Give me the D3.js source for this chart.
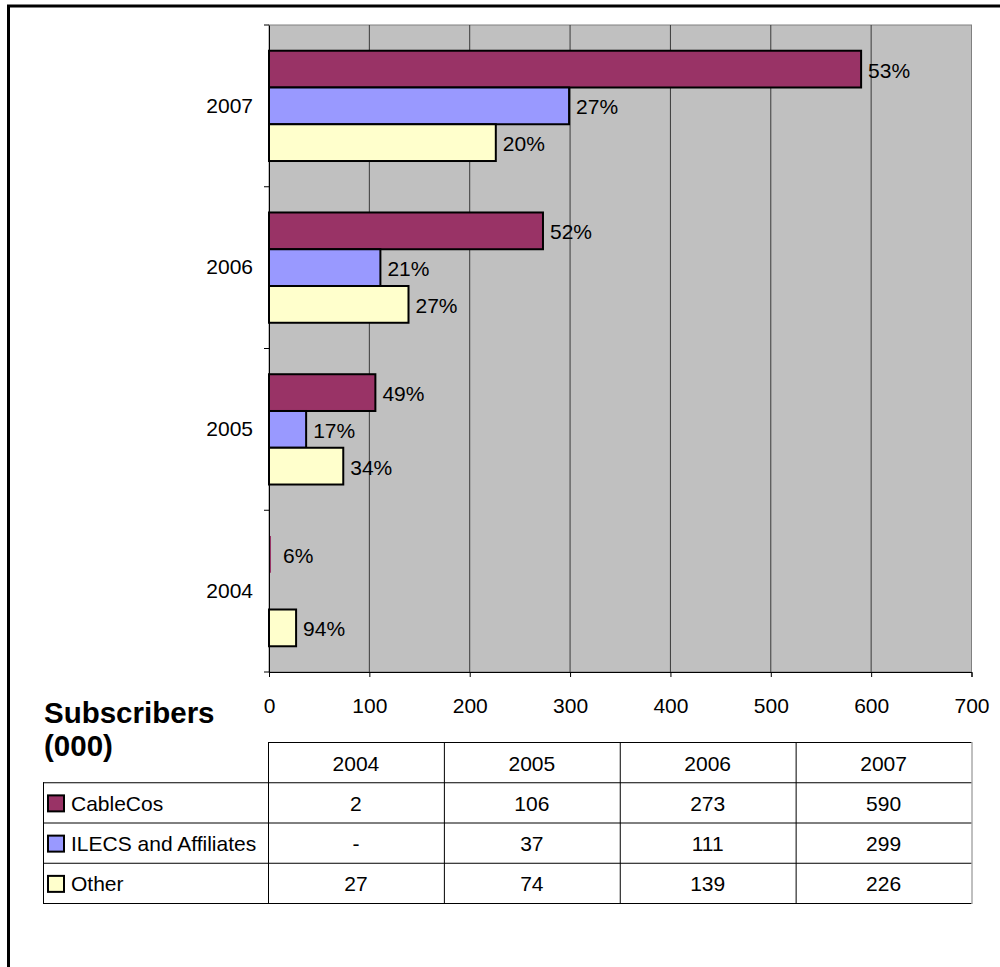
<!DOCTYPE html>
<html>
<head>
<meta charset="utf-8">
<script src="https://cdn.jsdelivr.net/npm/d3@7"></script>
<style>
  body { margin: 0; background: white; }
  svg { display: block; font-family: "Liberation Sans", Arial, sans-serif; }
</style>
</head>
<body>
<svg id="chart" width="1000" height="967"></svg>
<script>
// data
var years = ['2004', '2005', '2006', '2007']
var series = ['CableCos', 'ILECS and Affiliates', 'Other']
var cableCos = [2, 106, 273, 590]
var ilecs = [null, 37, 111, 299] // 2004 is "-" in the table
var other = [27, 74, 139, 226]
var cablePct = ['6%', '49%', '52%', '53%']
var ilecsPct = [null, '17%', '21%', '27%']
var otherPct = ['94%', '34%', '27%', '20%']
var colors = ['#993366', '#9999FF', '#FFFFCC']
var xTicks = [0, 100, 200, 300, 400, 500, 600, 700]

var values = [cableCos, ilecs, other]
var pcts = [cablePct, ilecsPct, otherPct]

var svg = d3.select('#chart')

// outer frame, runs past the right and bottom edge
svg.append('rect')
  .attr('x', 8.5).attr('y', 6)
  .attr('width', 1100).attr('height', 1100)
  .attr('fill', 'none')
  .attr('stroke', 'black')
  .attr('stroke-width', 3)

var plot = { left: 269, right: 971.5, top: 25, bottom: 672 }

var x = d3.scaleLinear().domain([0, 700]).range([plot.left, plot.right])
var y = d3.scaleBand().domain(years.slice().reverse()).range([plot.top, plot.bottom])
var ySub = d3.scaleBand().domain(series).range([0, y.bandwidth()]).paddingOuter(0.7)

// grey plot area
svg.append('rect')
  .attr('x', plot.left).attr('y', plot.top)
  .attr('width', plot.right - plot.left).attr('height', plot.bottom - plot.top)
  .attr('fill', '#C0C0C0')
  .attr('stroke', '#808080')
  .attr('stroke-width', 1)

// vertical gridlines
svg.append('g')
  .selectAll('line')
  .data(xTicks.filter(d => d > 0 && d < 700))
  .join('line')
  .attr('x1', d => x(d)).attr('x2', d => x(d))
  .attr('y1', plot.top).attr('y2', plot.bottom)
  .attr('stroke', '#3a3a3a')
  .attr('stroke-width', 1)

// bars, one group per year
var groups = svg.append('g')
  .selectAll('g')
  .data(years)
  .join('g')
  .attr('transform', d => `translate(0,${y(d)})`)

groups.each(function(year, i) {
  var g = d3.select(this)
  series.forEach((s, k) => {
    var v = values[k][i]
    if (v == null) return
    var w = x(v) - x(0)
    g.append('rect')
      .attr('x', x(0))
      .attr('y', ySub(s))
      .attr('width', w)
      .attr('height', ySub.bandwidth())
      .attr('fill', colors[k])
      .attr('stroke', w > 4 ? 'black' : 'none') // the tiny 2004 bar disappears in the original
      .attr('stroke-width', 2)
    g.append('text')
      .attr('x', x(v) + (w > 4 ? 7 : 12))
      .attr('y', ySub(s) + ySub.bandwidth() / 2 + 1)
      .attr('dominant-baseline', 'central')
      .attr('font-size', 21)
      .text(pcts[k][i])
  })
})

// axes
var xAxis = svg.append('g')
  .attr('transform', `translate(0,${plot.bottom})`)
  .call(d3.axisBottom(x).tickValues(xTicks).tickSize(5).tickPadding(21))
xAxis.select('.domain').attr('stroke', 'black')
xAxis.selectAll('text').attr('font-size', 21).attr('font-family', null).attr('fill', 'black')

var yAxis = svg.append('g')
  .attr('transform', `translate(${plot.left},0)`)
  .call(d3.axisLeft(y).tickSize(0).tickPadding(16))
yAxis.select('.domain').attr('stroke', 'black')
yAxis.selectAll('text').attr('font-size', 21).attr('font-family', null).attr('fill', 'black')

// tick marks on the band edges
svg.append('g')
  .selectAll('line')
  .data(years.concat(['end']))
  .join('line')
  .attr('x1', plot.left - 5).attr('x2', plot.left)
  .attr('y1', (d, i) => i < years.length ? y(d) + y.bandwidth() : plot.top)
  .attr('y2', (d, i) => i < years.length ? y(d) + y.bandwidth() : plot.top)
  .attr('stroke', 'black')

// title left of the table
var title = svg.append('text')
  .attr('x', 44)
  .attr('font-size', 29.5)
  .attr('font-weight', 'bold')
title.append('tspan').attr('x', 44).attr('y', 723).text('Subscribers')
title.append('tspan').attr('x', 44).attr('y', 756).text('(000)')

// data table
var cols = d3.scaleBand().domain(years).range([268, plot.right])
var rows = d3.scaleBand().domain(['head'].concat(series)).range([742, 903])
var tableLeft = 43

var table = svg.append('g')

// header cells
table.selectAll('.head')
  .data(years)
  .join('text')
  .attr('class', 'head')
  .attr('x', d => cols(d) + cols.bandwidth() / 2)
  .attr('y', rows('head') + rows.bandwidth() / 2 + 1)
  .attr('text-anchor', 'middle')
  .attr('dominant-baseline', 'central')
  .attr('font-size', 21)
  .text(d => d)

series.forEach((s, k) => {
  var cy = rows(s) + rows.bandwidth() / 2 + 1
  table.append('rect')
    .attr('x', 48).attr('y', cy - 8)
    .attr('width', 16).attr('height', 16)
    .attr('fill', colors[k])
    .attr('stroke', 'black')
    .attr('stroke-width', 2)
  table.append('text')
    .attr('x', 71).attr('y', cy)
    .attr('dominant-baseline', 'central')
    .attr('font-size', 21)
    .text(s)
  years.forEach((yr, i) => {
    var v = values[k][i]
    table.append('text')
      .attr('x', cols(yr) + cols.bandwidth() / 2)
      .attr('y', cy)
      .attr('text-anchor', 'middle')
      .attr('dominant-baseline', 'central')
      .attr('font-size', 21)
      .text(v == null ? '-' : v)
  })
})

// grid lines of the table
var hLines = [
  [268, plot.right, rows('head')],
  [tableLeft, plot.right, rows(series[0])],
  [tableLeft, plot.right, rows(series[1])],
  [tableLeft, plot.right, rows(series[2])],
  [tableLeft, plot.right, rows(series[2]) + rows.bandwidth()]
]
table.selectAll('.hl')
  .data(hLines)
  .join('line')
  .attr('x1', d => d[0]).attr('x2', d => d[1])
  .attr('y1', d => d[2] + 0.5).attr('y2', d => d[2] + 0.5)
  .attr('stroke', 'black')

var vLines = [[tableLeft, rows(series[0])]]
  .concat(years.map(d => [cols(d), rows('head')]))
  .concat([[plot.right, rows('head')]])
table.selectAll('.vl')
  .data(vLines)
  .join('line')
  .attr('x1', d => d[0] + 0.5).attr('x2', d => d[0] + 0.5)
  .attr('y1', d => d[1]).attr('y2', rows(series[2]) + rows.bandwidth() + 1)
  .attr('stroke', (d, i) => i == vLines.length - 1 ? '#808080' : 'black')
</script>
</body>
</html>
